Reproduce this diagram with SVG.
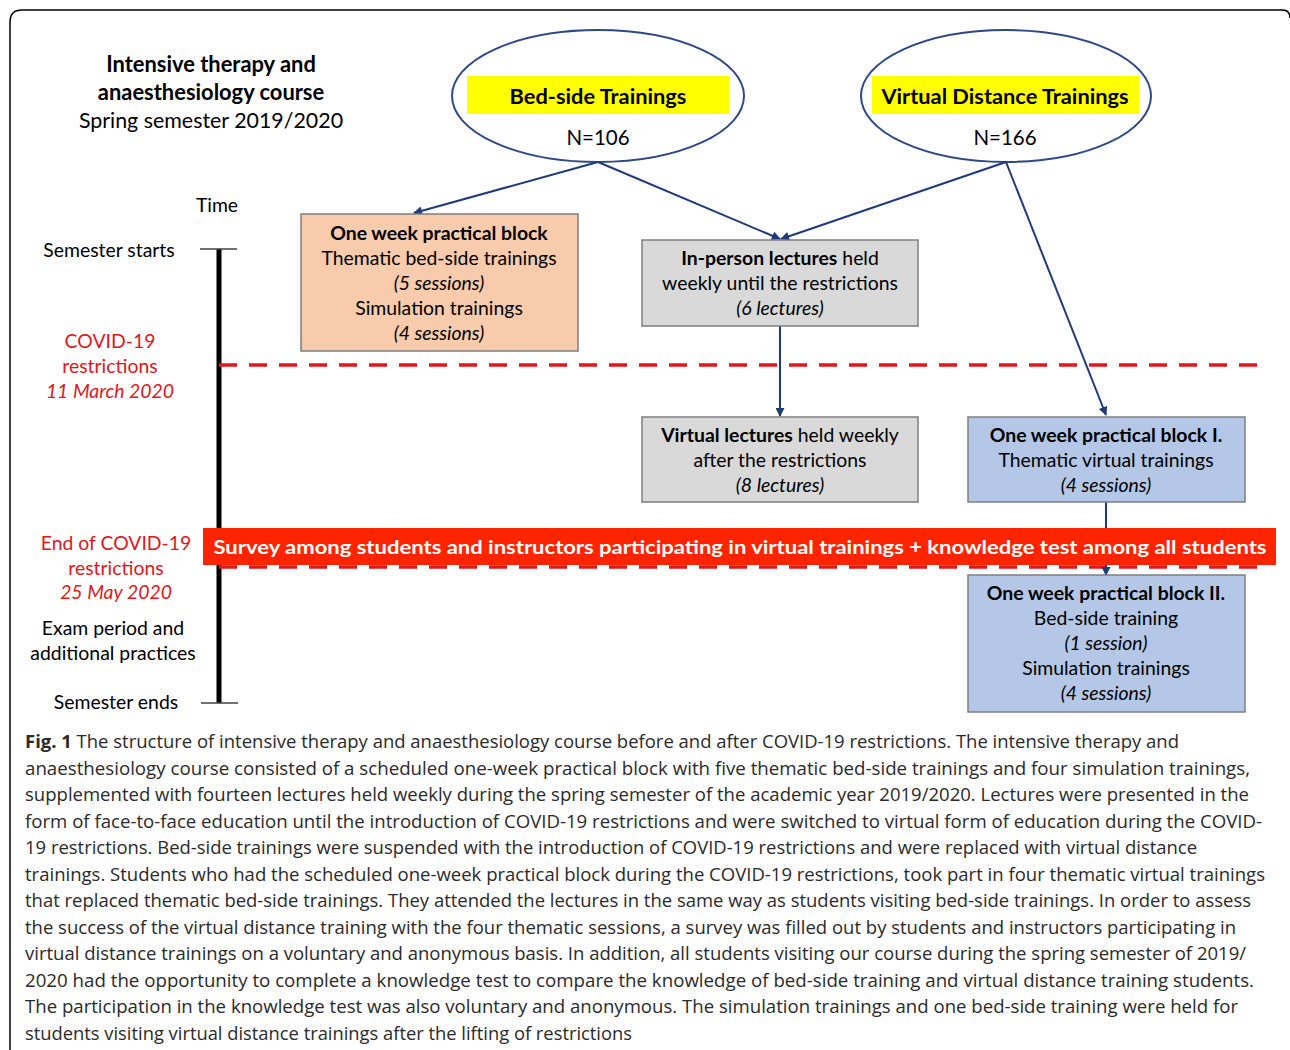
<svg xmlns="http://www.w3.org/2000/svg" width="1290" height="1050" viewBox="0 0 1290 1050">
<defs>
<marker id="arr" viewBox="0 0 10 10" refX="9" refY="5" markerWidth="10" markerHeight="9" markerUnits="userSpaceOnUse" orient="auto">
<path d="M0,0 L10,5 L0,10 z" fill="#1f3a78"/>
</marker>
<style>
.t{font-family:Lato,"Liberation Sans",sans-serif;font-size:19.4px;fill:#000;text-anchor:middle}
.big{font-size:21.8px}
.n{font-size:20.5px}
.ttl{font-size:21.4px}
.ttlb{font-size:21.9px}
.b{font-weight:bold}
.i{font-style:italic}
.r{fill:#e3161c}
.cap{font-family:"Open Sans","Noto Sans",sans-serif;font-size:18px;fill:#2a2a2a}
.box{stroke:#7f7f7f;stroke-width:1.5}
.ell{fill:#fff;stroke:#2e4a86;stroke-width:2}
.con{stroke:#1f3a78;stroke-width:2;fill:none}
.dash{stroke:#e3161c;stroke-width:3.5;stroke-dasharray:18 12;fill:none}
</style>
</defs>
<rect width="1290" height="1050" fill="#fff"/>
<path d="M10,1050 L10,22 Q10,10 22,10 L1282,10 Q1290,10 1290,18" fill="none" stroke="#000" stroke-width="1.5"/>

<g id="title">
<text class="t ttlb b" x="211" y="72">Intensive therapy and</text>
<text class="t ttlb b" x="211" y="100">anaesthesiology course</text>
<text class="t ttl" x="211" y="128">Spring semester 2019/2020</text>
</g>

<g id="timeline">
<line x1="219" y1="249" x2="219" y2="703" stroke="#000" stroke-width="5"/>
<line x1="200" y1="249" x2="237" y2="249" stroke="#404040" stroke-width="1.5"/>
<line x1="201" y1="703" x2="238" y2="703" stroke="#404040" stroke-width="1.5"/>
<text class="t" x="217" y="212">Time</text>
<text class="t" x="109" y="257">Semester starts</text>
<text class="t r" x="110" y="348">COVID-19</text>
<text class="t r" x="110" y="373">restrictions</text>
<text class="t r i" x="110" y="398">11 March 2020</text>
<text class="t r" x="116" y="550">End of COVID-19</text>
<text class="t r" x="116" y="575">restrictions</text>
<text class="t r i" x="116" y="599">25 May 2020</text>
<text class="t" x="113" y="635">Exam period and</text>
<text class="t" x="113" y="660">additional practices</text>
<text class="t" x="116" y="709">Semester ends</text>
</g>

<g id="bedside">
<ellipse class="ell" cx="598" cy="96" rx="146" ry="66"/>
<rect x="467" y="76" width="262" height="38" fill="#ffff00"/>
<text class="t big b" x="598" y="104">Bed-side Trainings</text>
<text class="t n" x="598" y="145">N=106</text>
</g>

<g id="virtual">
<ellipse class="ell" cx="1006" cy="96" rx="145" ry="66"/>
<rect x="872" y="76" width="267" height="38" fill="#ffff00"/>
<text class="t big b" x="1005" y="104">Virtual Distance Trainings</text>
<text class="t n" x="1005" y="145">N=166</text>
</g>

<g id="dashes">
<line class="dash" x1="219" y1="365" x2="1268" y2="365"/>
<line class="dash" x1="219" y1="567" x2="1268" y2="567"/>
</g>

<g id="connectors">
<line class="con" x1="598" y1="162" x2="414" y2="213" marker-end="url(#arr)"/>
<line class="con" x1="598" y1="162" x2="780" y2="239" marker-end="url(#arr)"/>
<line class="con" x1="1006" y1="162" x2="781" y2="239" marker-end="url(#arr)"/>
<line class="con" x1="1006" y1="162" x2="1106" y2="415" marker-end="url(#arr)"/>
<line class="con" x1="780" y1="326" x2="780" y2="416" marker-end="url(#arr)"/>
<line class="con" x1="1106" y1="502" x2="1106" y2="575" marker-end="url(#arr)"/>
</g>

<g id="block">
<rect class="box" x="301" y="214" width="277" height="137" fill="#f8cbad"/>
<text class="t b" x="439" y="240">One week practical block</text>
<text class="t" x="439" y="265">Thematic bed-side trainings</text>
<text class="t i" x="439" y="290">(5 sessions)</text>
<text class="t" x="439" y="315">Simulation trainings</text>
<text class="t i" x="439" y="340">(4 sessions)</text>
</g>

<g id="inperson">
<rect class="box" x="642" y="240" width="276" height="86" fill="#d9d9d9"/>
<text class="t" x="780" y="265"><tspan class="b">In-person lectures</tspan> held</text>
<text class="t" x="780" y="290">weekly until the restrictions</text>
<text class="t i" x="780" y="315">(6 lectures)</text>
</g>

<g id="virtlect">
<rect class="box" x="642" y="417" width="276" height="85" fill="#d9d9d9"/>
<text class="t" x="780" y="442"><tspan class="b">Virtual lectures</tspan> held weekly</text>
<text class="t" x="780" y="467">after the restrictions</text>
<text class="t i" x="780" y="492">(8 lectures)</text>
</g>

<g id="block1">
<rect class="box" x="968" y="417" width="277" height="85" fill="#b4c7e7"/>
<text class="t b" x="1106" y="442">One week practical block I.</text>
<text class="t" x="1106" y="467">Thematic virtual trainings</text>
<text class="t i" x="1106" y="492">(4 sessions)</text>
</g>

<g id="survey">
<rect x="203" y="528" width="1073" height="37" fill="#fe2400"/>
<text class="t b" x="740" y="554" style="fill:#fff" textLength="1053" lengthAdjust="spacingAndGlyphs">Survey among students and instructors participating in virtual trainings + knowledge test among all students</text>
</g>

<g id="block2">
<rect class="box" x="968" y="575" width="277" height="137" fill="#b4c7e7"/>
<text class="t b" x="1106" y="600">One week practical block II.</text>
<text class="t" x="1106" y="625">Bed-side training</text>
<text class="t i" x="1106" y="650">(1 session)</text>
<text class="t" x="1106" y="675">Simulation trainings</text>
<text class="t i" x="1106" y="700">(4 sessions)</text>
</g>

<g id="caption" class="cap">
<text x="25" y="748" textLength="1154" lengthAdjust="spacingAndGlyphs"><tspan font-weight="bold">Fig. 1</tspan> The structure of intensive therapy and anaesthesiology course before and after COVID-19 restrictions. The intensive therapy and</text>
<text x="25" y="774.5" textLength="1225" lengthAdjust="spacingAndGlyphs">anaesthesiology course consisted of a scheduled one-week practical block with five thematic bed-side trainings and four simulation trainings,</text>
<text x="25" y="801" textLength="1224" lengthAdjust="spacingAndGlyphs">supplemented with fourteen lectures held weekly during the spring semester of the academic year 2019/2020. Lectures were presented in the</text>
<text x="25" y="827.5" textLength="1237" lengthAdjust="spacingAndGlyphs">form of face-to-face education until the introduction of COVID-19 restrictions and were switched to virtual form of education during the COVID-</text>
<text x="25" y="854" textLength="1172" lengthAdjust="spacingAndGlyphs">19 restrictions. Bed-side trainings were suspended with the introduction of COVID-19 restrictions and were replaced with virtual distance</text>
<text x="25" y="880.5" textLength="1240" lengthAdjust="spacingAndGlyphs">trainings. Students who had the scheduled one-week practical block during the COVID-19 restrictions, took part in four thematic virtual trainings</text>
<text x="25" y="907" textLength="1226" lengthAdjust="spacingAndGlyphs">that replaced thematic bed-side trainings. They attended the lectures in the same way as students visiting bed-side trainings. In order to assess</text>
<text x="25" y="933.5" textLength="1211" lengthAdjust="spacingAndGlyphs">the success of the virtual distance training with the four thematic sessions, a survey was filled out by students and instructors participating in</text>
<text x="25" y="960" textLength="1221" lengthAdjust="spacingAndGlyphs">virtual distance trainings on a voluntary and anonymous basis. In addition, all students visiting our course during the spring semester of 2019/</text>
<text x="25" y="986.5" textLength="1229" lengthAdjust="spacingAndGlyphs">2020 had the opportunity to complete a knowledge test to compare the knowledge of bed-side training and virtual distance training students.</text>
<text x="25" y="1013" textLength="1213" lengthAdjust="spacingAndGlyphs">The participation in the knowledge test was also voluntary and anonymous. The simulation trainings and one bed-side training were held for</text>
<text x="25" y="1039.5" textLength="607" lengthAdjust="spacingAndGlyphs">students visiting virtual distance trainings after the lifting of restrictions</text>
</g>
</svg>
